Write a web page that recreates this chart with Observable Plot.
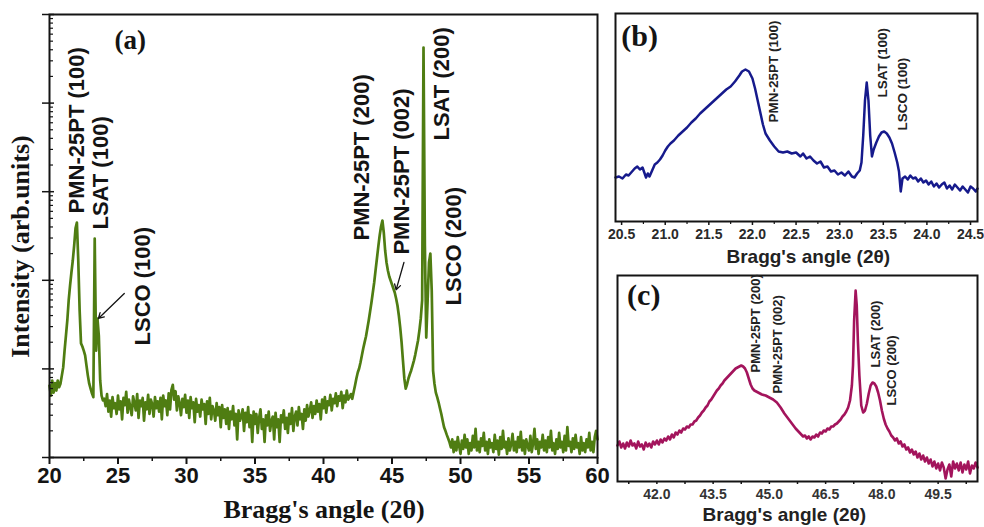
<!DOCTYPE html>
<html><head><meta charset="utf-8">
<script src="https://cdn.jsdelivr.net/npm/d3@7"></script>
<script src="https://cdn.jsdelivr.net/npm/@observablehq/plot@0.6"></script>
<style>
html,body{margin:0;padding:0;background:#fff;}
#wrap{position:relative;width:984px;height:527px;overflow:hidden;background:#fff;}
#wrap svg{position:absolute;}
</style></head><body><div id="wrap"></div>
<script>
// ---------- Panel (a): full scan, sampled every 0.1 degree from 20.0 to 60.0 ----------
const angleStartA = 20.0;
const angleStepA = 0.1;
const intensityA = [
  65, 50, 74, 54, 69, 57, 74, 62, 68, 84,
  104, 161, 238, 352, 592, 873, 1225, 1673, 2470, 3850,
  4490, 1673, 456, 194, 179, 161, 142, 109, 84, 68,
  60, 53, 48, 2960, 161, 370, 238, 74, 50, 44,
  46, 38, 52, 33, 44, 29, 48, 36, 41, 31,
  50, 35, 43, 27, 47, 39, 55, 32, 45, 37,
  30, 49, 41, 34, 52, 28, 44, 38, 47, 26,
  42, 35, 51, 31, 45, 40, 29, 48, 36, 43,
  33, 47, 27, 50, 38, 44, 30, 53, 35, 58,
  66, 45, 56, 34, 49, 41, 30, 46, 37, 51,
  32, 44, 28, 48, 36, 42, 25, 46, 33, 39,
  29, 45, 35, 40, 24, 43, 31, 47, 27, 38,
  34, 26, 41, 30, 37, 22, 39, 28, 35, 24,
  36, 21, 33, 27, 38, 23, 31, 16, 34, 26,
  29, 35, 20, 32, 25, 37, 22, 30, 15, 33,
  24, 31, 19, 28, 35, 21, 27, 15, 30, 23,
  33, 20, 26, 29, 16, 32, 22, 27, 15, 30,
  25, 34, 21, 28, 19, 31, 24, 36, 20, 29,
  33, 23, 37, 27, 31, 21, 35, 26, 39, 29,
  34, 42, 28, 38, 31, 44, 33, 40, 27, 45,
  36, 48, 32, 43, 39, 51, 34, 46, 41, 53,
  38, 49, 44, 55, 36, 50, 42, 57, 45, 48,
  52, 46, 55, 65, 78, 91, 101, 118, 142, 170,
  199, 232, 286, 352, 444, 561, 728, 944, 1291, 1762,
  2405, 3203, 4045, 4730, 3463, 2170, 1588, 1291, 1104, 995,
  897, 808, 728, 623, 519, 400, 293, 199, 124, 78,
  60, 67, 78, 87, 96, 109, 124, 145, 174, 209,
  271, 371, 592, 424000, 2470, 226, 592, 1590, 2007, 767,
  95, 68, 54, 48, 42, 36, 31, 26, 22, 20,
  18, 16.4, 14.8, 13, 16, 11.5, 15, 12, 17, 13.5,
  11, 15.5, 12.5, 18, 13, 16, 11, 14.5, 12, 17.5,
  13, 21, 12, 15, 11.5, 16.5, 13.5, 19, 12, 15,
  11, 16, 13, 14.5, 11.5, 18, 12.5, 15.5, 10.8, 17,
  12.5, 20, 13, 15, 11, 16.5, 12, 14, 18.5, 12,
  15, 11.5, 17, 13, 19.5, 12, 15.5, 11, 16, 13.5,
  12, 17.5, 11.5, 14.5, 21, 12.5, 16, 11, 15, 13,
  18, 12, 15.5, 11.5, 17, 13, 20, 12, 14.5, 11,
  16, 12.5, 19, 13, 15, 11.5, 17.5, 12, 22, 13.5,
  15, 11.5, 16.5, 12.5, 18, 13, 14.5, 11, 17, 12,
  14.5, 11.5, 16, 13, 19, 12, 15, 11.5, 17, 20,
  16
];
const ticksA = [20, 25, 30, 35, 40, 45, 50, 55, 60];
const minorTicksA = [22.5, 27.5, 32.5, 37.5, 42.5, 47.5, 52.5, 57.5];
const decadesA = [10, 100, 1000, 10000, 100000, 1000000];
const peakLabelsA = ["PMN-25PT (100)", "LSAT (100)", "LSCO (100)", "PMN-25PT (200)", "PMN-25PT (002)", "LSAT (200)", "LSCO (200)"];
const peakLabelAnglesA = [21.97, 23.72, 26.85, 42.81, 45.72, 48.63, 49.55];
const peakLabelIntensitiesA = [5680, 3740, 184, 2810, 1950, 37800, 520];
const arrowFromAngleA = [25.46, 45.87];
const arrowFromIntensityA = [710, 1590];
const arrowToAngleA = [23.57, 45.30];
const arrowToIntensityA = [371, 780];

// ---------- Panel (b): zoom 20.4 - 24.6 ----------
const angleB = [20.43,20.47,20.51,20.55,20.58,20.62,20.65,20.68,20.71,20.74,20.76,20.78,20.80,20.82,20.85,20.88,20.91,20.94,20.97,21.00,21.03,21.06,21.10,21.15,21.20,21.25,21.30,21.35,21.40,21.45,21.50,21.55,21.60,21.65,21.70,21.75,21.80,21.85,21.88,21.92,21.96,22.00,22.03,22.06,22.09,22.12,22.15,22.20,22.25,22.30,22.35,22.40,22.45,22.50,22.55,22.58,22.62,22.66,22.70,22.74,22.78,22.82,22.86,22.90,22.94,22.98,23.02,23.06,23.10,23.14,23.17,23.20,23.23,23.25,23.27,23.29,23.31,23.33,23.35,23.37,23.39,23.42,23.45,23.48,23.51,23.54,23.57,23.60,23.63,23.66,23.68,23.70,23.72,23.75,23.78,23.81,23.84,23.87,23.90,23.93,23.96,23.99,24.02,24.05,24.08,24.11,24.14,24.17,24.20,24.23,24.26,24.29,24.32,24.35,24.38,24.41,24.44,24.47,24.50,24.53,24.56,24.58];
const intensityB = [440,450,430,470,460,500,530,550,520,540,490,440,480,450,510,570,590,620,660,710,750,780,810,860,900,940,990,1030,1080,1120,1160,1200,1240,1280,1320,1350,1400,1460,1500,1520,1500,1430,1330,1210,1090,970,880,810,750,700,690,700,680,690,650,680,630,650,610,580,600,540,550,500,510,470,490,460,500,450,440,480,510,590,860,1210,1390,1210,860,650,720,790,850,890,900,880,840,780,690,590,500,300,430,450,420,460,430,440,400,430,390,410,370,400,350,380,340,370,390,330,360,320,370,340,310,350,320,290,350,330,300,330];
const ticksB = [20.5, 21.0, 21.5, 22.0, 22.5, 23.0, 23.5, 24.0, 24.5];
const minorTicksB = [20.75, 21.25, 21.75, 22.25, 22.75, 23.25, 23.75, 24.25];
const peakLabelsB = ["PMN-25PT (100)", "LSAT (100)", "LSCO (100)"];
const peakLabelAnglesB = [22.24, 23.49, 23.72];
const peakLabelIntensitiesB = [990, 1240, 910];

// ---------- Panel (c): zoom 41 - 50.5 ----------
const angleC = [40.95,41.00,41.05,41.10,41.15,41.20,41.25,41.30,41.35,41.40,41.45,41.50,41.55,41.60,41.65,41.70,41.75,41.80,41.85,41.90,41.95,42.00,42.05,42.10,42.15,42.20,42.25,42.30,42.35,42.40,42.45,42.50,42.55,42.60,42.65,42.70,42.75,42.80,42.85,42.90,42.95,43.00,43.05,43.10,43.15,43.20,43.25,43.30,43.35,43.40,43.45,43.50,43.55,43.60,43.65,43.70,43.75,43.80,43.85,43.90,43.95,44.00,44.05,44.10,44.15,44.20,44.25,44.30,44.35,44.40,44.45,44.50,44.55,44.60,44.70,44.80,44.90,45.00,45.10,45.20,45.30,45.40,45.50,45.60,45.70,45.80,45.85,45.90,45.95,46.00,46.05,46.10,46.15,46.20,46.25,46.30,46.35,46.40,46.45,46.50,46.55,46.60,46.65,46.70,46.75,46.80,46.85,46.90,46.95,47.00,47.05,47.10,47.15,47.20,47.23,47.26,47.30,47.33,47.36,47.40,47.45,47.50,47.55,47.60,47.65,47.70,47.75,47.80,47.85,47.90,47.95,48.00,48.05,48.10,48.15,48.20,48.25,48.30,48.35,48.40,48.45,48.50,48.55,48.60,48.65,48.70,48.75,48.80,48.85,48.90,48.95,49.00,49.05,49.10,49.15,49.20,49.25,49.30,49.35,49.40,49.45,49.50,49.55,49.60,49.65,49.70,49.75,49.80,49.85,49.90,49.95,50.00,50.05,50.10,50.15,50.20,50.25,50.30,50.35,50.40,50.45,50.50,50.55];
const intensityC = [
  360,400,340,380,330,390,350,410,360,380,
  330,400,350,370,320,390,350,380,340,400,
  370,410,370,420,390,430,410,450,420,470,
  440,490,470,510,490,530,520,550,540,570,
  570,600,610,640,660,690,710,740,760,800,
  820,850,880,910,930,960,980,1010,1030,1050,
  1070,1090,1110,1130,1140,1150,1160,1150,1130,1090,
  1030,970,930,910,
  890,870,860,840,820,790,740,680,630,580,530,490,
  470,450,460,430,450,420,450,440,470,450,
  490,480,510,500,530,520,550,550,570,580,
  600,620,650,670,700,740,810,960,
  1160,1610,1910,1760,1410,1060,
  760,690,710,780,880,960,990,980,950,890,
  810,710,630,570,530,500,460,440,410,430,
  380,400,350,370,320,340,290,320,270,300,
  240,280,220,260,200,240,180,220,150,200,
  130,180,110,190,140,30,120,170,50,200,
  130,180,110,190,90,170,120,200,80,160,
  130,190,140
];
const ticksC = [42.0, 43.5, 45.0, 46.5, 48.0, 49.5];
const minorTicksC = [41.25, 42.75, 44.25, 45.75, 47.25, 48.75, 50.25];
const peakLabelsC = ["PMN-25PT (200)", "PMN-25PT (002)", "LSAT (200)", "LSCO (200)"];
const peakLabelAnglesC = [44.65, 45.22, 47.85, 48.27];
const peakLabelIntensitiesC = [1090, 880, 1140, 760];

const panelTags = ["(a)", "(b)", "(c)"];
const xTitle = "Bragg's angle (2\u03b8)";
const yTitleA = "Intensity (arb.units)";

const greenA = "#4f7d12", blueB = "#161a8c", pinkC = "#a3145c";
const sans = "'Liberation Sans', Arial, Helvetica, sans-serif";
const serif = "'Liberation Serif', 'Times New Roman', serif";
const ink = "#141414";

const zip = (labels, xs, ys) => labels.map((t, i) => ({t, x: xs[i], y: ys[i]}));
const dataA = intensityA.map((v, i) => ({x: +(angleStartA + i * angleStepA).toFixed(2), y: v}));
const dataB = angleB.map((a, i) => ({x: a, y: intensityB[i]}));
const dataC = angleC.map((a, i) => ({x: a, y: intensityC[i]}));
const minorDecadesA = decadesA.slice(0, -1).flatMap(d => [2,3,4,5,6,7,8,9].map(m => d * m));
const arrowsA = arrowFromAngleA.map((a, i) => ({x1: a, y1: arrowFromIntensityA[i], x2: arrowToAngleA[i], y2: arrowToIntensityA[i]}));

const baseStyle = {fontFamily: sans, color: ink, background: "none", overflow: "visible"};

// ---- Panel (a)
const plotA = Plot.plot({
  width: 600, height: 527,
  marginLeft: 49, marginRight: 3, marginTop: 14, marginBottom: 70,
  x: {domain: [20, 60]},
  y: {type: "log", domain: [10, 1e6]},
  style: baseStyle,
  marks: [
    Plot.line(dataA, {x: "x", y: "y", stroke: greenA, strokeWidth: 2.7}),
    Plot.frame({stroke: ink, strokeWidth: 2}),
    Plot.axisX({ticks: ticksA, tickSize: 7, tickPadding: 3, tickFormat: d => String(d), fontSize: 22, fontWeight: "bold", label: null, strokeWidth: 2}),
    Plot.axisX({ticks: minorTicksA, tickSize: 4, fill: "none", label: null, strokeWidth: 1.5}),
    Plot.axisY({ticks: decadesA, tickSize: 7, fill: "none", label: null, strokeWidth: 1.5}),
    Plot.axisY({ticks: decadesA, tickSize: 5, dx: 5, fill: "none", label: null, strokeWidth: 1.5}),
    Plot.axisY({ticks: minorDecadesA, tickSize: 4, dx: 4, fill: "none", label: null, strokeWidth: 1.2}),
    Plot.text(zip(peakLabelsA, peakLabelAnglesA, peakLabelIntensitiesA), {x: "x", y: "y", text: "t", rotate: -90, textAnchor: "start", lineAnchor: "middle", fontSize: 22, fontWeight: "bold", fill: ink}),
    Plot.arrow(arrowsA, {x1: "x1", y1: "y1", x2: "x2", y2: "y2", stroke: ink, strokeWidth: 1.3, headLength: 7}),
    Plot.text([panelTags[0]], {x: 25.9, y: 510000, text: d => d, fontFamily: serif, fontWeight: "bold", fontSize: 27, fill: ink, textAnchor: "middle", lineAnchor: "middle"}),
    Plot.text([xTitle], {x: 40.04, y: 2.05, text: d => d, fontFamily: serif, fontWeight: "bold", fontSize: 26, fill: ink, textAnchor: "middle", lineAnchor: "bottom"}),
    Plot.text([yTitleA], {x: 17.93, y: 2405, text: d => d, rotate: -90, fontFamily: serif, fontWeight: "bold", fontSize: 26, fill: ink, textAnchor: "middle", lineAnchor: "middle"})
  ]
});

// ---- Panel (b)
const plotB = Plot.plot({
  width: 384, height: 270,
  marginLeft: 15, marginRight: 7, marginTop: 13, marginBottom: 49,
  x: {domain: [20.43, 24.58]},
  y: {domain: [0, 2080], axis: null},
  style: baseStyle,
  marks: [
    Plot.line(dataB, {x: "x", y: "y", stroke: blueB, strokeWidth: 2.5}),
    Plot.frame({stroke: ink, strokeWidth: 2}),
    Plot.axisX({ticks: ticksB, tickSize: 4, tickPadding: 4, tickFormat: d => d.toFixed(1), fontSize: 14, fontWeight: "bold", fill: "#2a2a2a", label: null, strokeWidth: 1.5}),
    Plot.axisX({ticks: minorTicksB, tickSize: 3, fill: "none", label: null, strokeWidth: 1.2}),
    Plot.text(zip(peakLabelsB, peakLabelAnglesB, peakLabelIntensitiesB), {x: "x", y: "y", text: "t", rotate: -90, textAnchor: "start", lineAnchor: "middle", fontSize: 13.5, fontWeight: "bold", fill: "#222"}),
    Plot.text([panelTags[1]], {x: 20.706, y: 1850, text: d => d, fontFamily: serif, fontWeight: "bold", fontSize: 30, fill: ink, textAnchor: "middle", lineAnchor: "middle"}),
    Plot.text([xTitle], {x: 22.64, y: -410, text: d => d, fontWeight: "bold", fontSize: 19, fill: "#222", textAnchor: "middle", lineAnchor: "bottom"})
  ]
});

// ---- Panel (c)
const plotC = Plot.plot({
  width: 384, height: 257,
  marginLeft: 17, marginRight: 7, marginTop: 5, marginBottom: 46,
  x: {domain: [40.95, 50.55]},
  y: {domain: [0, 2060], axis: null},
  style: baseStyle,
  marks: [
    Plot.line(dataC, {x: "x", y: "y", stroke: pinkC, strokeWidth: 2.6}),
    Plot.frame({stroke: ink, strokeWidth: 2}),
    Plot.axisX({ticks: ticksC, tickSize: 3, tickPadding: 5, tickFormat: d => d.toFixed(1), fontSize: 14, fontWeight: "bold", fill: "#333", label: null, strokeWidth: 1.5}),
    Plot.axisX({ticks: minorTicksC, tickSize: 3, fill: "none", label: null, strokeWidth: 1.5}),
    Plot.text(zip(peakLabelsC, peakLabelAnglesC, peakLabelIntensitiesC), {x: "x", y: "y", text: "t", rotate: -90, textAnchor: "start", lineAnchor: "middle", fontSize: 13, fontWeight: "bold", fill: "#222"}),
    Plot.text([panelTags[2]], {x: 41.65, y: 1860, text: d => d, fontFamily: serif, fontWeight: "bold", fontSize: 30, fill: ink, textAnchor: "middle", lineAnchor: "middle"}),
    Plot.text([xTitle], {x: 45.40, y: -390, text: d => d, fontWeight: "bold", fontSize: 19, fill: "#222", textAnchor: "middle", lineAnchor: "bottom"})
  ]
});

const wrap = document.getElementById("wrap");
[[plotA, 0, 0], [plotB, 600, 0], [plotC, 600, 270]].forEach(([svg, left, top]) => {
  svg.style.position = "absolute";
  svg.style.left = left + "px";
  svg.style.top = top + "px";
  wrap.appendChild(svg);
});
</script></body></html>
